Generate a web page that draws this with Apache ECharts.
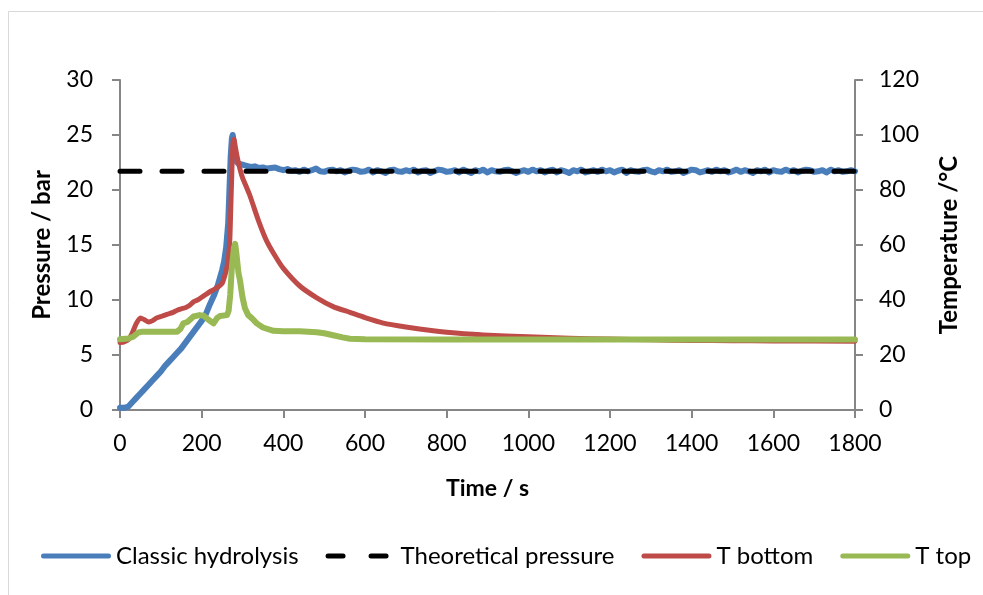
<!DOCTYPE html>
<html>
<head>
<meta charset="utf-8">
<script src="https://cdn.jsdelivr.net/npm/echarts@6/dist/echarts.min.js"></script>
<style>html,body{margin:0;padding:0;background:#fff;}#c{width:983px;height:595px;}</style>
</head>
<body>
<div id="c"></div>
<script>
// ---- data ----
const xTicks = [0, 200, 400, 600, 800, 1000, 1200, 1400, 1600, 1800];

const blueTimeRise = [0,10,20,30,40,50,60,70,80,90,100,110,120,130,140,150,160,170,180,190,200,210,220,230,240,250,255,260,265,268,271,274,276,278,281,285,290];
const bluePressureRise = [0.2,0.2,0.3,0.7,1.1,1.5,1.9,2.3,2.7,3.1,3.5,4.0,4.4,4.8,5.2,5.6,6.1,6.6,7.1,7.6,8.1,8.7,9.6,10.4,11.4,12.7,13.5,14.8,17.0,20.0,23.0,24.7,25.0,24.5,23.2,22.6,22.4];
// plateau sampled every 10 s from 300 s to 1800 s
const bluePressurePlateau = [
 22.3,22.2,22.1,22.15,22.0,22.05,21.95,22.0,22.05,21.9,
 21.8,21.9,21.75,21.8,21.65,21.85,21.7,21.8,21.95,21.7,
 21.65,21.8,21.85,21.7,21.8,21.6,21.75,21.85,21.8,21.65,
 21.7,21.85,21.6,21.8,21.7,21.55,21.8,21.85,21.7,21.65,
 21.8,21.7,21.85,21.6,21.75,21.8,21.55,21.7,21.85,21.8,
 21.65,21.7,21.8,21.6,21.85,21.7,21.55,21.8,21.7,21.85,
 21.6,21.8,21.7,21.65,21.8,21.85,21.7,21.55,21.7,21.8,
 21.65,21.85,21.7,21.8,21.6,21.75,21.85,21.6,21.8,21.7,
 21.55,21.8,21.7,21.85,21.6,21.7,21.8,21.65,21.85,21.7,
 21.8,21.6,21.75,21.85,21.55,21.8,21.7,21.65,21.8,21.85,
 21.7,21.6,21.8,21.7,21.85,21.65,21.7,21.8,21.55,21.7,
 21.85,21.8,21.6,21.7,21.8,21.65,21.85,21.7,21.8,21.6,
 21.7,21.85,21.65,21.8,21.7,21.55,21.8,21.7,21.85,21.6,
 21.8,21.7,21.65,21.85,21.7,21.8,21.6,21.75,21.85,21.8,
 21.65,21.7,21.8,21.6,21.85,21.7,21.8,21.65,21.7,21.8,
 21.7
];

const theoTime = [0, 1800];
const theoPressure = [21.7, 21.7];

const tBottomTime = [0,10,20,30,40,50,60,70,80,90,100,110,120,130,140,150,160,170,180,190,200,210,220,230,240,250,256,262,266,269,271,273,275,277,279,282,287,294,300,318,340,359,380,400,441,482,522,563,600,645,700,767,800,890,1000,1100,1200,1300,1400,1500,1600,1800];
const tBottom = [24.5,24.8,25.5,28,31.5,33.5,32.8,32,32.5,33.5,34,34.5,35,35.5,36.3,36.8,37.2,38,39.3,40,41,42,43,43.8,44.7,46,48.5,52,56,62,72,82,92,97.5,98.5,96,92,87.5,84.5,78,68.5,61.5,56,51.5,45,40.8,37.6,35.5,33.6,31.6,30.2,28.8,28.3,27.3,26.6,26.1,25.8,25.5,25.3,25.2,25.1,25.0];

const tTopTime = [0,20,33,45,55,140,148,155,165,180,195,205,215,229,238,245,262,266,270,274,279,282,285,290,294,300,306,314,322,335,350,376,400,440,482,500,522,545,563,600,800,1800];
const tTop = [25.7,26,26.7,28.2,28.5,28.5,29.5,31.5,32,34,34.5,34.3,33,31.5,33.5,34.2,34.5,36,42,52,59,60.4,57,50,47,41,37,34.5,33.5,31.5,30,28.8,28.6,28.6,28.3,27.9,27.2,26.4,25.9,25.7,25.6,25.6];

// ---- build ----
const blueData = blueTimeRise.map((t, i) => [t, bluePressureRise[i]])
  .concat(bluePressurePlateau.map((v, i) => [300 + i * 10, v]));
const theoData = theoTime.map((t, i) => [t, theoPressure[i]]);
const botData = tBottomTime.map((t, i) => [t, tBottom[i]]);
const topData = tTopTime.map((t, i) => [t, tTop[i]]);

const FONT = 'Lato';
const axisCol = '#868686';
const plainFmt = v => String(v);
const solidIcon = 'path://M2.5,0 H67.5 A2.5,2.5 0 0 1 67.5,5 H2.5 A2.5,2.5 0 0 1 2.5,0 Z';
const dashIcon = 'path://M2.5,0 H17.5 A2.5,2.5 0 0 1 17.5,5 H2.5 A2.5,2.5 0 0 1 2.5,0 Z M45.5,0 H60.5 A2.5,2.5 0 0 1 60.5,5 H45.5 A2.5,2.5 0 0 1 45.5,0 Z M70,0 L70,5';
const chart = echarts.init(document.getElementById('c'), null, {renderer: 'canvas'});
chart.setOption({
  animation: false,
  backgroundColor: '#fff',
  textStyle: {fontFamily: FONT},
  graphic: [{
    type: 'rect', shape: {x: 8.5, y: 11.5, width: 1100, height: 700},
    style: {fill: null, stroke: '#d9d9d9', lineWidth: 1}, silent: true, z: -1
  }],
  grid: {left: 120, right: 128, top: 80, bottom: 185, containLabel: false},
  legend: {
    top: 539, left: 36, itemWidth: 70, itemHeight: 5, itemGap: 27,
    textStyle: {fontFamily: FONT, fontSize: 24, color: '#000'},
    data: [
      {name: 'Classic hydrolysis', icon: solidIcon},
      {name: 'Theoretical pressure', icon: dashIcon},
      {name: 'T bottom', icon: solidIcon},
      {name: 'T top', icon: solidIcon}
    ]
  },
  xAxis: {
    type: 'value', min: 0, max: 1800, interval: 200,
    name: 'Time / s', nameLocation: 'middle', nameGap: 67,
    nameTextStyle: {fontFamily: FONT, fontSize: 23, fontWeight: 'bold', color: '#000'},
    axisLine: {show: true, lineStyle: {color: axisCol, width: 2}},
    axisTick: {show: true, length: 8, lineStyle: {color: axisCol, width: 2}},
    axisLabel: {fontFamily: FONT, fontSize: 23, color: '#000', margin: 22, formatter: plainFmt},
    splitLine: {show: false}
  },
  yAxis: [{
    type: 'value', min: 0, max: 30, interval: 5, position: 'left',
    name: 'Pressure / bar', nameLocation: 'middle', nameGap: 66,
    nameTextStyle: {fontFamily: FONT, fontSize: 24, fontWeight: 'bold', color: '#000'},
    axisLine: {show: true, lineStyle: {color: axisCol, width: 2}},
    axisTick: {show: true, length: 8, lineStyle: {color: axisCol, width: 2}},
    axisLabel: {fontFamily: FONT, fontSize: 23, color: '#000', margin: 27, formatter: plainFmt},
    splitLine: {show: false}
  }, {
    type: 'value', min: 0, max: 120, interval: 20, position: 'right',
    name: 'Temperature /°C', nameLocation: 'middle', nameGap: 82, nameRotate: 90,
    nameTextStyle: {fontFamily: FONT, fontSize: 24, fontWeight: 'bold', color: '#000'},
    axisLine: {show: true, lineStyle: {color: axisCol, width: 2}},
    axisTick: {show: true, length: 8, lineStyle: {color: axisCol, width: 2}},
    axisLabel: {fontFamily: FONT, fontSize: 23, color: '#000', margin: 24, formatter: plainFmt},
    splitLine: {show: false}
  }],
  series: [{
    name: 'Classic hydrolysis', type: 'line', yAxisIndex: 0, data: blueData,
    showSymbol: false, symbol: 'none', color: '#4a7ebb',
    lineStyle: {width: 6, color: '#4a7ebb', cap: 'round', join: 'round'}, z: 2
  }, {
    name: 'Theoretical pressure', type: 'line', yAxisIndex: 0, data: theoData,
    showSymbol: false, symbol: 'none', color: '#000',
    lineStyle: {width: 5, color: '#000', type: [20, 22], cap: 'round'}, z: 3
  }, {
    name: 'T bottom', type: 'line', yAxisIndex: 1, data: botData,
    showSymbol: false, symbol: 'none', color: '#be4b48', smooth: 0.2,
    lineStyle: {width: 5, color: '#be4b48', cap: 'round', join: 'round'}, z: 4
  }, {
    name: 'T top', type: 'line', yAxisIndex: 1, data: topData,
    showSymbol: false, symbol: 'none', color: '#98b954',
    lineStyle: {width: 6, color: '#98b954', cap: 'round', join: 'round'}, z: 5
  }]
});
</script>
</body>
</html>
